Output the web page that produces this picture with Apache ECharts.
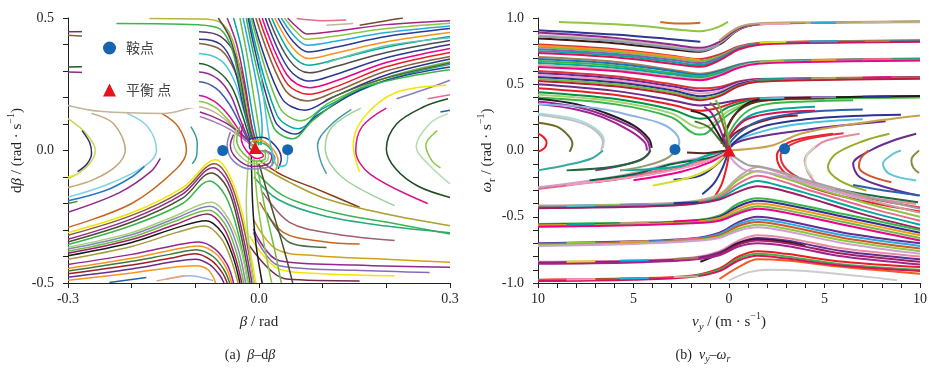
<!DOCTYPE html>
<html><head><meta charset="utf-8">
<script src="https://cdn.jsdelivr.net/npm/echarts@6/dist/echarts.min.js"></script>
<style>html,body{margin:0;padding:0;background:#fff}#c{width:933px;height:370px}</style>
</head><body><div id="c"></div>
<script>
// ---------------- LEFT PANEL (beta, dbeta) ----------------
const leftV = [
 [[0.045,0.5],[0.06,0.465],[0.075,0.44],[0.12,0.45],[0.2,0.475],[0.3,0.49]],
 [[0.04,0.5],[0.058,0.45],[0.075,0.42],[0.12,0.432],[0.2,0.46],[0.3,0.48]],
 [[0.035,0.5],[0.056,0.43],[0.076,0.397],[0.12,0.412],[0.2,0.445],[0.3,0.47]],
 [[0.03,0.5],[0.054,0.41],[0.077,0.372],[0.12,0.39],[0.2,0.43],[0.3,0.46]],
 [[0.025,0.5],[0.052,0.39],[0.078,0.347],[0.12,0.367],[0.2,0.41],[0.3,0.445]],
 [[0.02,0.5],[0.05,0.365],[0.078,0.322],[0.12,0.343],[0.2,0.39],[0.3,0.43]],
 [[0.015,0.5],[0.048,0.34],[0.079,0.293],[0.12,0.317],[0.2,0.37],[0.3,0.415]],
 [[0.01,0.5],[0.046,0.31],[0.08,0.262],[0.12,0.287],[0.2,0.35],[0.3,0.4]],
 [[0.005,0.5],[0.044,0.285],[0.08,0.237],[0.12,0.262],[0.2,0.332],[0.3,0.385]],
 [[0,0.5],[0.042,0.26],[0.078,0.212],[0.12,0.24],[0.2,0.316],[0.3,0.37]],
 [[-0.005,0.5],[0.04,0.232],[0.076,0.187],[0.12,0.222],[0.2,0.3],[0.3,0.355]],
 [[-0.01,0.5],[0.035,0.2],[0.072,0.152],[0.115,0.2],[0.2,0.285],[0.3,0.345]],
 [[-0.012,0.5],[0.032,0.165],[0.066,0.112],[0.11,0.18],[0.2,0.275],[0.3,0.335]],
 [[-0.015,0.5],[0.028,0.135],[0.062,0.082],[0.1,0.158],[0.2,0.265],[0.3,0.325]],
 [[-0.017,0.5],[0.025,0.112],[0.058,0.062],[0.09,0.13],[0.18,0.25],[0.3,0.315]],
 [[-0.02,0.5],[0.022,0.092],[0.053,0.044],[0.085,0.115],[0.16,0.235],[0.3,0.305]]
];
const leftVColors = ['#a3238e','#8dc63f','#27aae1','#2b3990','#f7941d','#00a99d','#4d4d4d','#2b3990','#ec008c','#ed1c24','#8b5e3c','#2e3192','#6abf45','#00a99d','#2b3990','#39b54a'];
const leftVExtra = [
 [[0.059,0.498],[0.1,0.49],[0.137,0.492]],
 [[0.106,0.473],[0.148,0.479]],
 [[0.158,0.473],[0.2,0.49],[0.226,0.5]],
 [[0.105,0.19],[0.18,0.26],[0.3,0.33]],
 [[0.216,0.195],[0.26,0.23],[0.3,0.265]],
 [[0.265,0.195],[0.3,0.21]],
 [[0.105,0.33],[0.2,0.395],[0.3,0.425]]
];
const leftVExtraColors = ['#e66b8e','#c2b59b','#754c24','#4d6b2f','#8781bd','#e66b8e','#66c2a5'];
const leftLambda = [
 [[-0.3,-0.31],[-0.2,-0.235],[-0.12,-0.14],[-0.068,-0.035],[-0.045,-0.1],[-0.025,-0.25],[-0.005,-0.5]],
 [[-0.3,-0.32],[-0.2,-0.245],[-0.12,-0.152],[-0.07,-0.05],[-0.047,-0.11],[-0.027,-0.26],[-0.008,-0.5]],
 [[-0.3,-0.335],[-0.2,-0.258],[-0.12,-0.165],[-0.072,-0.065],[-0.049,-0.12],[-0.03,-0.27],[-0.011,-0.5]],
 [[-0.3,-0.345],[-0.2,-0.27],[-0.12,-0.18],[-0.075,-0.085],[-0.05,-0.14],[-0.032,-0.28],[-0.014,-0.5]],
 [[-0.3,-0.355],[-0.2,-0.283],[-0.12,-0.2],[-0.078,-0.115],[-0.053,-0.17],[-0.034,-0.3],[-0.017,-0.5]],
 [[-0.3,-0.365],[-0.2,-0.31],[-0.13,-0.245],[-0.075,-0.195],[-0.05,-0.25],[-0.03,-0.36],[-0.018,-0.5]],
 [[-0.3,-0.372],[-0.2,-0.318],[-0.13,-0.255],[-0.077,-0.21],[-0.052,-0.26],[-0.033,-0.37],[-0.021,-0.5]],
 [[-0.3,-0.38],[-0.2,-0.327],[-0.13,-0.265],[-0.079,-0.225],[-0.054,-0.275],[-0.036,-0.38],[-0.024,-0.5]],
 [[-0.3,-0.388],[-0.2,-0.336],[-0.13,-0.278],[-0.081,-0.24],[-0.056,-0.29],[-0.039,-0.39],[-0.027,-0.5]],
 [[-0.3,-0.397],[-0.2,-0.347],[-0.13,-0.292],[-0.083,-0.265],[-0.058,-0.31],[-0.041,-0.4],[-0.03,-0.5]],
 [[-0.3,-0.41],[-0.2,-0.362],[-0.13,-0.31],[-0.085,-0.285],[-0.06,-0.33],[-0.044,-0.41],[-0.033,-0.5]],
 [[-0.3,-0.43],[-0.2,-0.392],[-0.14,-0.362],[-0.095,-0.345],[-0.07,-0.37],[-0.05,-0.43],[-0.04,-0.5]],
 [[-0.3,-0.445],[-0.2,-0.407],[-0.14,-0.377],[-0.095,-0.36],[-0.07,-0.385],[-0.052,-0.44],[-0.043,-0.5]],
 [[-0.3,-0.455],[-0.2,-0.418],[-0.14,-0.392],[-0.097,-0.375],[-0.072,-0.4],[-0.055,-0.45],[-0.046,-0.5]],
 [[-0.3,-0.465],[-0.2,-0.432],[-0.14,-0.407],[-0.1,-0.39],[-0.075,-0.415],[-0.058,-0.46],[-0.05,-0.5]],
 [[-0.3,-0.478],[-0.2,-0.447],[-0.14,-0.422],[-0.1,-0.41],[-0.078,-0.43],[-0.062,-0.47],[-0.055,-0.5]],
 [[-0.3,-0.49],[-0.2,-0.462],[-0.14,-0.442],[-0.1,-0.435],[-0.08,-0.45],[-0.068,-0.5]]
];
const leftLambdaColors = ['#f2e600','#8b5e3c','#92278f','#4d4d2f','#39b54a','#a5d16f','#8781bd','#6abf45','#9e1f63','#1a1a1a','#a89b3c','#92278f','#f7941d','#3d7a3a','#9e1f1f','#662d91','#f7941d'];
const leftBottomBits = [
 [[-0.146,-0.486],[-0.109,-0.473],[-0.072,-0.491]],
 [[-0.161,-0.492],[-0.117,-0.473]],
 [[-0.235,-0.498],[-0.177,-0.479]]
];
const leftBottomBitsColors = ['#9fb4e6','#f0a070','#2b5fa8'];
const leftArcsL = [
 [[-0.3,0.12],[-0.272,0.065],[-0.257,0],[-0.27,-0.06],[-0.3,-0.107]],
 [[-0.278,0.075],[-0.266,0.03],[-0.263,-0.01],[-0.27,-0.05],[-0.285,-0.08]],
 [[-0.263,0.14],[-0.228,0.1],[-0.21,0.0],[-0.225,-0.06],[-0.26,-0.11],[-0.3,-0.14]],
 [[-0.207,0.14],[-0.175,0.09],[-0.161,0.0],[-0.18,-0.06],[-0.24,-0.13],[-0.3,-0.176]],
 [[-0.153,0.14],[-0.127,0.09],[-0.114,0.0],[-0.13,-0.07],[-0.2,-0.2],[-0.3,-0.29]],
 [[-0.107,0.09],[-0.097,0.03],[-0.098,-0.02],[-0.105,-0.05]],
 [[-0.3,-0.233],[-0.22,-0.16],[-0.17,-0.08],[-0.155,-0.03]],
 [[-0.3,-0.19],[-0.24,-0.15],[-0.2,-0.1],[-0.18,-0.06]],
 [[-0.3,-0.1],[-0.285,-0.09]],
 [[-0.3,-0.2],[-0.285,-0.192]]
];
const leftArcsLColors = ['#c8d84a','#2b2f6b','#c2a878','#7fd3e0','#c8641e','#3a9a9a','#92278f','#2878c8','#e8e620','#3a8a3a'];
const leftArcsR = [
 [[0.145,0.155],[0.11,0.09],[0.092,0.02],[0.097,-0.04],[0.106,-0.088]],
 [[0.16,0.16],[0.115,0.09],[0.104,0.01],[0.13,-0.1],[0.213,-0.208]],
 [[0.294,0.246],[0.216,0.22],[0.165,0.126],[0.148,0.02],[0.158,-0.08]],
 [[0.2,0.16],[0.162,0.09],[0.152,0.0],[0.175,-0.09],[0.265,-0.2]],
 [[0.297,0.195],[0.258,0.164],[0.216,0.1],[0.2,0.006],[0.215,-0.07],[0.25,-0.135],[0.3,-0.177]],
 [[0.297,0.139],[0.268,0.101],[0.247,0.013],[0.268,-0.057],[0.3,-0.126]],
 [[0.28,0.075],[0.262,0.02],[0.272,-0.04],[0.285,-0.065]],
 [[0.285,0.145],[0.3,0.152]]
];
const leftArcsRColors = ['#4a9aa8','#9bd49b','#f2e600','#d4148c','#1f4a1f','#b5dcb0','#8dc63f','#2b5fa8'];
const leftFanLow = [
 [[0,-0.035],[0.038,-0.095],[0.09,-0.145],[0.158,-0.214]],
 [[-0.004,-0.05],[0.048,-0.12],[0.106,-0.183],[0.2,-0.24],[0.3,-0.284]],
 [[-0.004,-0.082],[0.038,-0.17],[0.116,-0.233],[0.2,-0.27],[0.3,-0.315]],
 [[-0.008,-0.1],[0.03,-0.185],[0.1,-0.245],[0.2,-0.285],[0.3,-0.31]],
 [[0.006,-0.158],[0.048,-0.271],[0.12,-0.315],[0.213,-0.34]],
 [[0.001,-0.195],[0.038,-0.309],[0.1,-0.343],[0.158,-0.353]],
 [[0.012,-0.233],[0.048,-0.347],[0.106,-0.366]],
 [[-0.009,-0.259],[0.027,-0.372],[0.09,-0.397],[0.2,-0.41],[0.3,-0.422]],
 [[-0.009,-0.296],[0.032,-0.416],[0.15,-0.432],[0.3,-0.441]],
 [[-0.009,-0.309],[0.032,-0.435],[0.15,-0.452],[0.268,-0.46]],
 [[-0.015,-0.322],[0.032,-0.448],[0.1,-0.465],[0.213,-0.473]],
 [[-0.015,-0.359],[0.043,-0.485],[0.158,-0.492]],
 [[-0.012,-0.02],[-0.01,-0.2],[-0.005,-0.35],[0.005,-0.5]],
 [[-0.008,-0.03],[-0.002,-0.2],[0.01,-0.38],[0.02,-0.5]],
 [[-0.004,-0.04],[0.008,-0.2],[0.025,-0.38],[0.035,-0.5]],
 [[0,-0.05],[0.018,-0.2],[0.04,-0.38],[0.053,-0.5]],
 [[-0.016,-0.02],[-0.02,-0.2],[-0.015,-0.38],[-0.008,-0.5]]
];
const leftFanLowColors = ['#8b3a1a','#a8a030','#39b54a','#2aa87a','#a0606a','#c8641e','#4a6a4a','#d4a017','#92278f','#8a6abf','#f2e600','#7a2a4a','#1a1a1a','#8dc63f','#6abf45','#4d4d2f','#a5d16f'];
const leftFanUp = [
 [[-0.3,0.448],[-0.2,0.45],[-0.094,0.448],[-0.06,0.43],[-0.035,0.35],[-0.02,0.2],[-0.008,0.04]],
 [[-0.3,0.435],[-0.2,0.42],[-0.094,0.404],[-0.06,0.38],[-0.038,0.3],[-0.022,0.17],[-0.01,0.04]],
 [[-0.2,0.37],[-0.094,0.366],[-0.06,0.34],[-0.04,0.27],[-0.024,0.15],[-0.012,0.04]],
 [[-0.3,0.315],[-0.2,0.32],[-0.094,0.328],[-0.065,0.3],[-0.043,0.24],[-0.027,0.14],[-0.014,0.04]],
 [[-0.3,0.296],[-0.2,0.29],[-0.094,0.296],[-0.065,0.27],[-0.045,0.21],[-0.03,0.12],[-0.016,0.04]],
 [[-0.2,0.26],[-0.094,0.259],[-0.068,0.235],[-0.048,0.18],[-0.032,0.11],[-0.018,0.04]],
 [[-0.2,0.21],[-0.094,0.208],[-0.07,0.185],[-0.05,0.14],[-0.035,0.09],[-0.02,0.04]],
 [[-0.3,0.17],[-0.25,0.148],[-0.15,0.14],[-0.094,0.164],[-0.07,0.145],[-0.05,0.11],[-0.035,0.07],[-0.02,0.035]],
 [[-0.2,0.4],[-0.094,0.42],[-0.06,0.4],[-0.04,0.32],[-0.026,0.18],[-0.012,0.05]],
 [[-0.2,0.18],[-0.094,0.185],[-0.07,0.165],[-0.052,0.125],[-0.036,0.08],[-0.02,0.04]],
 [[-0.224,0.479],[-0.12,0.476],[-0.067,0.465],[-0.045,0.4],[-0.03,0.25],[-0.015,0.08],[-0.005,0.02]],
 [[-0.172,0.498],[-0.093,0.496],[-0.062,0.485],[-0.042,0.42],[-0.027,0.27],[-0.013,0.09],[-0.003,0.02]],
 [[-0.064,0.5],[-0.045,0.42],[-0.03,0.28],[-0.018,0.12],[-0.008,0.03]],
 [[-0.05,0.5],[-0.035,0.4],[-0.022,0.25],[-0.012,0.1],[-0.004,0.03]],
 [[-0.04,0.5],[-0.027,0.38],[-0.016,0.22],[-0.006,0.08],[0,0.02]],
 [[-0.03,0.5],[-0.018,0.35],[-0.008,0.2],[0,0.08],[0.003,0.02]],
 [[-0.025,0.5],[-0.01,0.33],[0.0,0.2],[0.005,0.08],[0.003,0.02]],
 [[-0.093,0.145],[-0.07,0.125],[-0.046,0.095],[-0.025,0.055],[-0.01,0.02]],
 [[-0.093,0.128],[-0.07,0.108],[-0.046,0.08],[-0.025,0.045],[-0.01,0.015]]
];
const leftFanUpColors = ['#5a3a6a','#8b5e3c','#4cc3d9','#1f5a2a','#92278f','#3b5ba8','#d4148c','#c2b59b','#2b3990','#8dc63f','#39b54a','#b5b53c','#4d4d4d','#a3238e','#00a99d','#6abf45','#27aae1','#92278f','#a67cc0'];
const leftSpiral = [
 [[-0.04,0.06],[-0.045,0.02],[-0.035,-0.03],[-0.01,-0.06],[0.015,-0.05],[0.02,-0.02],[0.005,0.0]],
 [[-0.035,0.08],[-0.04,0.03],[-0.03,-0.02],[-0.008,-0.05],[0.012,-0.04],[0.015,-0.015],[0,0]],
 [[-0.03,0.09],[-0.035,0.04],[-0.025,-0.01],[-0.005,-0.04],[0.01,-0.03],[0.01,-0.01],[-0.002,0]],
 [[-0.025,0.1],[-0.028,0.05],[-0.02,0.0],[-0.003,-0.03],[0.007,-0.02],[0,0]],
 [[0.03,-0.07],[0.035,-0.03],[0.025,0.02],[0.005,0.05],[-0.015,0.04],[-0.015,0.01],[-0.005,0]],
 [[0.025,-0.08],[0.03,-0.04],[0.02,0.01],[0,0.04],[-0.012,0.03],[-0.01,0.008]],
 [[0.02,-0.06],[0.022,-0.02],[0.012,0.02],[-0.003,0.03],[-0.01,0.015]],
 [[-0.045,0.07],[-0.05,0.02],[-0.04,-0.04],[-0.012,-0.07],[0.018,-0.06],[0.025,-0.025],[0.008,0.002]],
 [[0.0,0.35],[0.01,0.15],[0.02,0.0],[0.03,-0.06],[0.042,-0.055],[0.045,-0.02],[0.045,0.0]]
];
const leftSpiralColors = ['#92278f','#a5d16f','#6abf45','#ec008c','#2b3990','#f7941d','#39b54a','#8781bd','#4cc3d9'];
const leftSaddles = [[-0.057,0.0],[0.045,0.003]];
const leftEquilibrium = [[-0.006,0.009]];

// ---------------- RIGHT PANEL (vy, omega_r) ----------------
const rightA = [
 [[-10,0.908],[-6,0.875],[-3,0.84],[-1.5,0.82]],
 [[-10,0.845],[-6,0.81],[-3,0.765],[-1.5,0.745],[-0.5,0.8],[0.5,0.91],[1.5,0.95],[4,0.963],[10,0.972]],
 [[-10,0.87],[-6,0.835],[-3,0.785],[-1.5,0.76],[-0.5,0.81],[0.5,0.915],[1.5,0.952],[4,0.962],[10,0.968]],
 [[-10,0.89],[-6,0.85],[-3,0.8],[-1.5,0.775],[-0.5,0.82],[0.5,0.92],[1.5,0.955],[4,0.965]],
 [[-8.9,0.97],[-5,0.945],[-2.5,0.91],[-1.5,0.9],[-0.6,0.93],[-0.05,0.97]],
 [[-3.6,0.97],[-2.6,0.958],[-1.5,0.965]],
 [[-10,0.86],[-6,0.825],[-3,0.775],[-1.5,0.752],[-0.5,0.8]],
 [[-0.5,0.83],[0.5,0.93],[1.5,0.958],[4,0.966],[10,0.975]]
];
const rightAColors = ['#2b3990','#3b1a12','#c2b59b','#92278f','#8dc63f','#d2691e','#8a9ab0','#b5a86a'];
const rightB = [
 [[-10,0.8],[-6,0.765],[-3,0.715],[-1.5,0.69],[-0.5,0.725],[0.5,0.785],[1.5,0.812],[4,0.822],[10,0.832]],
 [[-10,0.78],[-6,0.745],[-3,0.7],[-1.5,0.675],[-0.5,0.712],[0.5,0.778],[1.5,0.808],[4,0.82],[10,0.829]],
 [[-10,0.765],[-6,0.73],[-3,0.685],[-1.5,0.66],[-0.5,0.7],[0.5,0.772],[1.5,0.805],[4,0.817],[10,0.826]],
 [[-10,0.75],[-6,0.718],[-3,0.67],[-1.5,0.645],[-0.5,0.69],[0.5,0.767],[1.5,0.801],[4,0.814],[10,0.823]],
 [[-10,0.735],[-6,0.703],[-3,0.655],[-1.5,0.632],[-0.5,0.68],[0.5,0.762],[1.5,0.797],[4,0.811],[10,0.82]],
 [[-10,0.79],[-6,0.755],[-3,0.71],[-1.5,0.683]]
];
const rightBColors = ['#e0303a','#6abf45','#8e5ab5','#00a99d','#d4145a','#f7941d'];
const rightC = [
 [[-10,0.705],[-6,0.67],[-3,0.61],[-1.5,0.58],[-0.5,0.605],[0.5,0.65],[1.5,0.672],[4,0.683],[10,0.695]],
 [[-10,0.69],[-6,0.655],[-3,0.6],[-1.5,0.57],[-0.5,0.6],[0.5,0.645],[1.5,0.668],[4,0.68],[10,0.69]],
 [[-10,0.675],[-6,0.64],[-3,0.585],[-1.5,0.56],[-0.5,0.59],[0.5,0.64],[1.5,0.665],[4,0.678],[10,0.688]],
 [[-10,0.66],[-6,0.625],[-3,0.575],[-1.5,0.55],[-0.5,0.58],[0.5,0.635],[1.5,0.662],[4,0.675],[10,0.685]],
 [[-10,0.645],[-6,0.61],[-3,0.56],[-1.5,0.54],[-0.5,0.57],[0.5,0.63],[1.5,0.66],[4,0.672],[10,0.682]],
 [[-10,0.63],[-6,0.6],[-3,0.55],[-1.5,0.53],[-0.5,0.565],[0.5,0.625],[1.5,0.655],[4,0.668],[10,0.68]]
];
const rightCColors = ['#a67c52','#1b75bc','#39b54a','#00a99d','#c2b59b','#ec008c'];
const rightD = [
 [[-10,0.6],[-6,0.56],[-3,0.5],[-1.5,0.47],[-0.5,0.48],[0.5,0.52],[1.5,0.54],[4,0.545],[10,0.555]],
 [[-10,0.585],[-6,0.545],[-3,0.485],[-1.5,0.45],[-0.5,0.465],[0.5,0.515],[1.5,0.535],[4,0.542],[10,0.552]],
 [[-10,0.57],[-6,0.53],[-3,0.47],[-1.5,0.43],[-0.5,0.45],[0.5,0.505],[1.5,0.53],[4,0.54],[10,0.55]],
 [[-10,0.555],[-6,0.515],[-3,0.455],[-1.5,0.41],[-0.5,0.435],[0.5,0.5],[1.5,0.527],[4,0.537],[10,0.547]],
 [[-10,0.54],[-6,0.5],[-3,0.44],[-1.5,0.395],[-0.5,0.42],[0.5,0.49],[1.5,0.522],[4,0.534],[10,0.545]],
 [[-10,0.525],[-6,0.485],[-3,0.425],[-1.5,0.38],[-0.5,0.41],[0.5,0.485],[1.5,0.518],[4,0.53],[10,0.542]]
];
const rightDColors = ['#e0303a','#662d91','#f49ac1','#2e3192','#6abf45','#be1e2d'];
const rightE = [
 [[-10,0.5],[-6,0.45],[-3,0.38],[-1.5,0.34],[-0.5,0.355],[0.5,0.382],[1.5,0.395],[4,0.4],[10,0.41]],
 [[-10,0.47],[-6,0.42],[-3,0.345],[-1.5,0.3],[-0.5,0.325],[0.5,0.372],[1.5,0.39],[4,0.398],[10,0.408]],
 [[-10,0.44],[-6,0.39],[-3,0.31],[-1.5,0.24],[-0.8,0.26],[0,0.33],[1.5,0.385],[4,0.395],[10,0.405]],
 [[-10,0.42],[-6,0.37],[-3,0.28],[-1.5,0.17],[-0.9,0.2],[0,0.3],[1.5,0.38],[4,0.392],[10,0.4]],
 [[-10,0.4],[-6,0.35],[-3,0.25],[-1.6,0.12],[-1.2,0.13],[-0.5,0.22],[0.5,0.32],[1.5,0.37],[4,0.39],[10,0.402]],
 [[-0.3,0.1],[0.2,0.25],[1,0.36],[2,0.39],[5,0.4],[10,0.412]]
];
const rightEColors = ['#662d91','#ed1c24','#009444','#a5d16f','#39b54a','#231f20'];
const rightFan = [
 [[-0.3,0.03],[0.5,0.15],[2.2,0.24],[3.6,0.265]],
 [[-0.1,0.02],[0.6,0.09],[2.3,0.165],[3.7,0.2],[5.5,0.225],[7,0.235]],
 [[0,0.015],[0.4,0.06],[1.4,0.1],[3.7,0.15],[6,0.19],[8.2,0.22]],
 [[0,0.0],[1.1,0.013],[2.3,0.04],[3.7,0.125],[5.6,0.18],[8,0.23],[10,0.265]],
 [[-0.3,0.04],[0.3,0.2],[1,0.3],[2,0.35],[4,0.37],[6.5,0.38]],
 [[-0.2,0.035],[0.4,0.18],[1.2,0.27],[2.5,0.31],[4.5,0.33]],
 [[-0.1,0.03],[0.5,0.13],[1.5,0.22],[3,0.27],[5,0.3],[7,0.31]],
 [[-0.4,0.05],[0.2,0.25],[0.8,0.33],[1.5,0.37],[3,0.39],[5,0.395]],
 [[-0.2,0.04],[0.3,0.16],[1,0.24],[2.5,0.285],[4.5,0.3]],
 [[0,0.02],[0.7,0.11],[2,0.19],[4,0.235],[6.5,0.26],[9,0.27]]
];
const rightFanColors = ['#8b1a1a','#4cc3d9','#662d91','#c8a050','#39b54a','#00a99d','#2b5fa8','#5a2a1a','#d4145a','#2e3192'];
const rightInUpper = [
 [[-2,0.3],[-1.2,0.26],[-0.7,0.16],[-0.3,0.06],[-0.1,0.01]],
 [[-1.8,0.22],[-1.1,0.18],[-0.6,0.1],[-0.25,0.04],[-0.05,0.01]],
 [[-1.3,0.33],[-0.9,0.28],[-0.5,0.17],[-0.2,0.06],[0,0.01]],
 [[-1.0,0.36],[-0.6,0.3],[-0.3,0.19],[-0.1,0.08],[0,0.02]],
 [[-0.7,0.38],[-0.4,0.3],[-0.2,0.2],[0,0.08],[0.05,0.02]]
];
const rightInUpperColors = ['#231f20','#4d6b2f','#92278f','#8b5e3c','#6abf45'];
const rightInLower = [
 [[-10,-0.277],[-5.7,-0.19],[-3.1,-0.1],[-1.4,-0.05],[-0.15,-0.01]],
 [[-10,-0.29],[-6,-0.215],[-3,-0.13],[-1.3,-0.07],[-0.2,-0.015]],
 [[-7,-0.24],[-4,-0.175],[-2,-0.115],[-0.8,-0.06],[-0.1,-0.01]],
 [[-2.9,-0.22],[-1.5,-0.19],[-0.6,-0.1],[-0.1,-0.02]],
 [[-4,-0.265],[-2,-0.2],[-0.8,-0.12],[-0.2,-0.03]],
 [[-5,-0.225],[-2.5,-0.16],[-1,-0.09],[-0.2,-0.02]],
 [[-7.3,-0.227],[-5,-0.18],[-2.9,-0.1],[-0.84,-0.05],[-0.1,-0.005]],
 [[-5.7,-0.15],[-4,-0.14],[-2.4,-0.113],[-1.2,-0.04],[-0.15,0.0]],
 [[-2.2,-0.015],[-1.3,-0.02],[-0.6,-0.01],[-0.1,0.0]],
 [[-8.5,-0.26],[-5,-0.2],[-2.5,-0.135],[-1,-0.07],[-0.1,-0.01]],
 [[-1.4,-0.33],[-0.8,-0.25],[-0.4,-0.15],[-0.1,-0.04]],
 [[-0.8,-0.36],[-0.4,-0.26],[-0.15,-0.14],[0,-0.03]]
];
const rightInLowerColors = ['#cfa0d0','#e66b8e','#e0303a','#2e3192','#d7df23','#ec008c','#006838','#00a99d','#5a2a1a','#f49ac1','#2b3990','#ed1c24'];
const rightArcsL = [
 [[-10,0.13],[-9.7,0.1],[-9.55,0.06],[-9.65,0.02],[-10,-0.01]],
 [[-10,0.21],[-9,0.18],[-8.4,0.11],[-8.2,0.05],[-8.35,-0.01]],
 [[-10,0.28],[-8,0.235],[-7,0.165],[-6.55,0.08],[-6.6,0.02]],
 [[-10,0.27],[-8,0.22],[-7,0.15],[-6.6,0.06],[-6.7,0.0]],
 [[-6.6,0.0],[-7.2,-0.06],[-8.5,-0.11],[-10,-0.15]],
 [[-10,0.39],[-8,0.35],[-6.6,0.29],[-5,0.19],[-4.2,0.09],[-4.05,0.02]],
 [[-10,0.37],[-8,0.33],[-6.6,0.27],[-5,0.17],[-4.3,0.08],[-4.15,0.0],[-4.5,-0.06],[-5.5,-0.11],[-7,-0.15]],
 [[-10,0.35],[-8,0.31],[-6.6,0.25],[-5.2,0.15],[-4.4,0.06],[-4.3,0.0]],
 [[-4.1,0.0],[-4.6,-0.07],[-6,-0.12],[-8.5,-0.15]],
 [[-10,0.35],[-7,0.32],[-5,0.26],[-3.5,0.2],[-2.8,0.13],[-2.6,0.06],[-2.75,0.01]],
 [[-5.7,-0.15],[-4.5,-0.12],[-3.4,-0.07],[-2.9,-0.02],[-2.8,0.01]]
];
const rightArcsLColors = ['#ed1c24','#6b6b2f','#a8dde0','#c0c0c0','#3aa8a0','#231f20','#92278f','#a3238e','#1f6a3a','#8fb4e6','#9a9a70'];
const rightArcsR = [
 [[5.45,0.126],[3.8,0.09],[3.0,0.05],[2.5,-0.04],[2.8,-0.15],[3.8,-0.25],[5.5,-0.33],[8,-0.41],[10,-0.46]],
 [[6,0.13],[4.2,0.09],[3.2,0.04],[2.7,-0.04],[3,-0.14],[4,-0.23],[5.8,-0.31],[8,-0.38],[10,-0.43]],
 [[6.84,0.126],[5.5,0.09],[4.75,0.05],[3.96,-0.076],[4.57,-0.252],[5.6,-0.31],[7.19,-0.353],[9.8,-0.404]],
 [[4.5,0.03],[4.1,-0.03],[4.0,-0.1],[4.4,-0.2]],
 [[8.4,0.126],[7,0.07],[5.6,-0.025],[5.18,-0.126],[5.8,-0.227],[7.19,-0.303]],
 [[9.8,0.126],[8.5,0.07],[7.4,0.0],[6.5,-0.1],[6.84,-0.2],[8.2,-0.277],[9.9,-0.34]],
 [[7.3,0.0],[6.9,-0.06],[6.8,-0.12],[7.2,-0.18],[8.5,-0.24]],
 [[9,0.0],[8.6,-0.025],[8.06,-0.1],[8.4,-0.177],[9.8,-0.227]],
 [[9.95,0.0],[9.6,-0.05],[9.55,-0.08],[9.65,-0.13],[9.95,-0.17]],
 [[5.6,-0.29],[7.5,-0.34],[9.9,-0.39]],
 [[6.5,-0.26],[8.5,-0.31],[10,-0.34]]
];
const rightArcsRColors = ['#ed1c24','#e0303a','#e88aa0','#c8e0c0','#9aab2a','#662d91','#d2552a','#5cc8d0','#8a8a40','#1f6a3a','#2b5fa8'];
const rightLowP = [
 [[-10,-0.415],[-5,-0.405],[-2,-0.385],[-0.5,-0.33],[0.5,-0.2],[1.5,-0.125],[2.5,-0.16],[4,-0.23],[7,-0.36],[10,-0.47]],
 [[-10,-0.42],[-5,-0.41],[-2,-0.39],[-0.5,-0.34],[0.5,-0.22],[1.5,-0.155],[2.5,-0.19],[4,-0.26],[7,-0.39],[10,-0.5]],
 [[-10,-0.425],[-5,-0.415],[-2,-0.395],[-0.5,-0.35],[0.5,-0.25],[1.5,-0.19],[2.5,-0.22],[4,-0.29],[7,-0.42],[10,-0.53]],
 [[-10,-0.43],[-5,-0.42],[-2,-0.4],[-0.5,-0.36],[0.5,-0.28],[1.5,-0.23],[2.5,-0.26],[4,-0.32],[7,-0.45],[10,-0.56]],
 [[-10,-0.435],[-5,-0.425],[-2,-0.405],[-0.5,-0.37],[0.5,-0.31],[1.5,-0.27],[2.5,-0.29],[4,-0.35],[7,-0.48],[10,-0.59]],
 [[-0.1,-0.01],[0.4,-0.06],[1,-0.11],[1.6,-0.12],[2.5,-0.15],[4,-0.22],[7,-0.34],[10,-0.44]],
 [[-0.05,-0.015],[0.3,-0.09],[0.9,-0.15],[1.6,-0.16],[2.5,-0.18],[4,-0.245],[7,-0.37]]
];
const rightLowPColors = ['#c8a0a8','#8dc63f','#e66b8e','#00a99d','#9e1f63','#a0a0a0','#cfa0d0'];
const rightLowQ = [
 [[-10,-0.555],[-5,-0.545],[-2,-0.53],[-0.5,-0.49],[0.5,-0.4],[1.5,-0.36],[3,-0.39],[6,-0.48],[10,-0.6]],
 [[-10,-0.56],[-5,-0.55],[-2,-0.535],[-0.5,-0.5],[0.5,-0.42],[1.5,-0.38],[3,-0.41],[6,-0.5],[10,-0.62]],
 [[-10,-0.565],[-5,-0.555],[-2,-0.54],[-0.5,-0.51],[0.5,-0.44],[1.5,-0.4],[3,-0.43],[6,-0.52],[10,-0.64]],
 [[-10,-0.57],[-5,-0.56],[-2,-0.545],[-0.5,-0.52],[0.5,-0.46],[1.5,-0.42],[3,-0.45],[6,-0.54],[10,-0.66]],
 [[-10,-0.575],[-5,-0.565],[-2,-0.55],[-0.5,-0.53],[0.5,-0.475],[1.5,-0.44],[3,-0.47],[6,-0.56],[10,-0.68]]
];
const rightLowQColors = ['#39b54a','#2e3192','#f7941d','#6abf45','#ec008c'];
const rightLowR = [
 [[-10,-0.7],[-5,-0.685],[-2,-0.665],[-0.5,-0.62],[0.5,-0.54],[1.5,-0.5],[3,-0.53],[6,-0.62],[10,-0.7]],
 [[-10,-0.705],[-5,-0.69],[-2,-0.67],[-0.5,-0.63],[0.5,-0.555],[1.5,-0.52],[3,-0.55],[6,-0.64],[10,-0.72]],
 [[-10,-0.71],[-5,-0.695],[-2,-0.675],[-0.5,-0.64],[0.5,-0.57],[1.5,-0.54],[3,-0.57],[6,-0.66],[10,-0.74]],
 [[-10,-0.715],[-5,-0.7],[-2,-0.68],[-0.5,-0.65],[0.5,-0.59],[1.5,-0.56],[3,-0.59],[6,-0.68],[10,-0.76]],
 [[-10,-0.72],[-5,-0.705],[-2,-0.685],[-0.5,-0.66],[0.5,-0.605],[1.5,-0.58],[3,-0.61],[6,-0.7],[10,-0.78]]
];
const rightLowRColors = ['#662d91','#27aae1','#d2552a','#8dc63f','#cfa0d0'];
const rightLowS = [
 [[-10,-0.84],[-5,-0.83],[-2,-0.81],[-0.5,-0.76],[0.5,-0.68],[1.5,-0.64],[3,-0.66],[6,-0.74],[10,-0.8]],
 [[-10,-0.845],[-5,-0.835],[-2,-0.815],[-0.5,-0.77],[0.5,-0.695],[1.5,-0.66],[3,-0.68],[6,-0.76],[10,-0.82]],
 [[-1.5,-0.84],[-0.5,-0.78],[0.5,-0.7],[1.5,-0.67],[3,-0.69],[4,-0.72]],
 [[-10,-0.85],[-5,-0.84],[-2,-0.82],[-0.5,-0.78],[0.5,-0.71],[1.5,-0.68],[3,-0.7],[6,-0.78],[10,-0.84]],
 [[-10,-0.855],[-5,-0.845],[-2,-0.825],[-0.5,-0.79],[0.5,-0.725],[1.5,-0.7],[3,-0.72],[6,-0.8],[10,-0.86]]
];
const rightLowSColors = ['#e88aa0','#662d91','#231f20','#9e1f63','#a3238e'];
const rightLowT = [
 [[-10,-0.975],[-5,-0.965],[-2,-0.945],[-0.5,-0.89],[0.5,-0.8],[1.5,-0.76],[3,-0.78],[6,-0.84],[10,-0.88]],
 [[-10,-0.98],[-5,-0.97],[-2,-0.95],[-0.5,-0.9],[0.5,-0.815],[1.5,-0.78],[3,-0.8],[6,-0.86],[10,-0.9]],
 [[-0.5,-0.97],[0.5,-0.88],[1.5,-0.82],[3,-0.83],[6,-0.88],[10,-0.93]],
 [[-10,-0.985],[-5,-0.975],[-2,-0.955],[-0.5,-0.91],[0.5,-0.83],[1.5,-0.795],[3,-0.815],[6,-0.87],[10,-0.91]],
 [[0,-0.98],[1,-0.92],[2,-0.9],[4,-0.91],[7,-0.95],[8.8,-0.98]]
];
const rightLowTColors = ['#ed1c24','#39b54a','#f15a24','#d4145a','#cccccc'];
const rightDashes = [
 [[1.6,0.952],[3.2,0.958]],[[4.3,0.962],[5.6,0.963]],[[7,0.966],[8.5,0.967]],
 [[1.6,0.815],[3,0.82]],[[4.2,0.823],[5.7,0.825]],[[7.1,0.826],[8.4,0.827]],
 [[1.6,0.672],[2.9,0.678]],[[4.3,0.682],[5.6,0.685]],[[7,0.688],[8.5,0.69]],
 [[1.6,0.535],[2.9,0.54]],[[4.3,0.545],[5.6,0.548]],[[7,0.55],[8.5,0.552]],
 [[1.6,0.392],[2.9,0.398]],[[4.3,0.402],[5.6,0.404]],[[7,0.406],[8.5,0.408]],
 [[-8.5,-0.973],[-7,-0.97]],[[-5.7,-0.966],[-4.2,-0.962]],[[-2.9,-0.955],[-1.6,-0.95]],
 [[-8.5,-0.84],[-7,-0.835]],[[-5.7,-0.832],[-4.2,-0.828]],[[-2.9,-0.818],[-1.6,-0.81]],
 [[-8.5,-0.698],[-7,-0.694]],[[-5.7,-0.69],[-4.2,-0.685]],[[-2.9,-0.675],[-1.6,-0.665]],
 [[-8.5,-0.556],[-7,-0.552]],[[-5.7,-0.548],[-4.2,-0.543]],[[-2.9,-0.535],[-1.6,-0.525]],
 [[-8.5,-0.418],[-7,-0.414]],[[-5.7,-0.41],[-4.2,-0.405]],[[-2.9,-0.398],[-1.6,-0.39]]
];
const rightDashColors = ['#f49ac1','#27aae1','#c2b59b','#d7df23','#00aeef','#a67c52','#8dc63f','#f7941d','#e66b8e','#00a99d','#c49a6c','#ec008c','#4cc3d9','#8781bd','#2e3192'];
const rightSaddles = [[-2.83,0.008],[2.91,0.013]];
const rightEquilibrium = [[0,0.0]];

// tick label texts
const leftXLabels = {'-0.3':'-0.3','0':'0.0','0.3':'0.3'};
const leftYLabels = {'-0.5':'-0.5','0':'0.0','0.5':'0.5'};
const rightXLabels = {'-10':'10','-5':'5','0':'0','5':'5','10':'10'};
const rightYLabels = {'-1':'-1.0','-0.5':'-0.5','0':'0.0','0.5':'0.5','1':'1.0'};

// ---------------- build ----------------
const series = [];
function addCurves(list, colors, idx, width) {
  list.forEach((pts, i) => {
    series.push({type:'line', xAxisIndex:idx, yAxisIndex:idx, data:pts, showSymbol:false, symbol:'none',
      smooth:0.35, silent:true, animation:false, z:2,
      lineStyle:{width:width, color:colors[i % colors.length]}});
  });
}
const LW = 1.5, RW = 2.0;
addCurves(leftV, leftVColors, 0, LW);
addCurves(leftVExtra, leftVExtraColors, 0, LW);
addCurves(leftLambda, leftLambdaColors, 0, LW);
addCurves(leftBottomBits, leftBottomBitsColors, 0, LW);
addCurves(leftArcsL, leftArcsLColors, 0, LW);
addCurves(leftArcsR, leftArcsRColors, 0, LW);
addCurves(leftFanLow, leftFanLowColors, 0, LW);
addCurves(leftFanUp, leftFanUpColors, 0, LW);
addCurves(leftSpiral, leftSpiralColors, 0, LW);
addCurves(rightA, rightAColors, 1, RW);
addCurves(rightB, rightBColors, 1, RW);
addCurves(rightC, rightCColors, 1, RW);
addCurves(rightD, rightDColors, 1, RW);
addCurves(rightE, rightEColors, 1, RW);
addCurves(rightFan, rightFanColors, 1, RW);
addCurves(rightInUpper, rightInUpperColors, 1, RW);
addCurves(rightInLower, rightInLowerColors, 1, RW);
addCurves(rightArcsL, rightArcsLColors, 1, RW);
addCurves(rightArcsR, rightArcsRColors, 1, RW);
addCurves(rightLowP, rightLowPColors, 1, RW);
addCurves(rightLowQ, rightLowQColors, 1, RW);
addCurves(rightLowR, rightLowRColors, 1, RW);
addCurves(rightLowS, rightLowSColors, 1, RW);
addCurves(rightLowT, rightLowTColors, 1, RW);
addCurves(rightDashes, rightDashColors, 1, RW);

const BLUE = '#1565b0', RED = '#e3141b';
const mk = (name, idx, data, symbol, size, color) => ({type:'scatter', name, xAxisIndex:idx, yAxisIndex:idx, data,
  symbol, symbolSize:size, itemStyle:{color, opacity:1}, z:10, silent:true, animation:false});
series.push(mk('鞍点', 0, leftSaddles, 'circle', 11, BLUE));
series.push(mk('平衡 点', 0, leftEquilibrium, 'triangle', [13,12], RED));
series.push(mk('saddleR', 1, rightSaddles, 'circle', 11, BLUE));
series.push(mk('eqR', 1, rightEquilibrium, 'triangle', [13,12], RED));

const FONT = 'Liberation Serif';
const INK = '#231f20';
const rich = {
  i:{fontStyle:'italic', fontSize:15, fontFamily:FONT, color:INK},
  sup:{fontSize:10, verticalAlign:'top', fontFamily:FONT, color:INK},
  sub:{fontSize:11, verticalAlign:'bottom', fontStyle:'italic', fontFamily:FONT, color:INK},
  subr:{fontSize:11, verticalAlign:'bottom', fontFamily:FONT, color:INK}
};
function keyOf(v){ const r = Math.round(v*1000)/1000; return String(r === 0 ? 0 : r); }
function axisCommon(labels, margin) {
  return {
    axisLine:{show:true, onZero:false, lineStyle:{color:INK, width:1}},
    axisTick:{show:true, inside:false, length:5, lineStyle:{color:INK, width:1}},
    splitLine:{show:false},
    axisLabel:{fontFamily:FONT, fontSize:14, color:INK, margin:margin, showMinLabel:true, showMaxLabel:true,
      formatter:(v)=>{ const k = keyOf(v); return labels[k] !== undefined ? labels[k] : ''; }}
  };
}
function nameStyle(){ return {fontFamily:FONT, fontSize:15, color:INK, lineHeight:22, rich:rich}; }

const option = {
  animation:false,
  backgroundColor:'#fff',
  grid:[
    {left:68, right:483, top:18, bottom:87},
    {left:538, right:13, top:18, bottom:87}
  ],
  xAxis:[
    Object.assign({type:'value', gridIndex:0, min:-0.3, max:0.3, interval:0.1,
      name:'{i|β} / rad', nameLocation:'middle', nameGap:27, nameTextStyle:nameStyle()}, axisCommon(leftXLabels, 9)),
    Object.assign({type:'value', gridIndex:1, min:-10, max:10, interval:1,
      name:'{i|v}{sub|y} / (m · s{sup|−1})', nameLocation:'middle', nameGap:27, nameTextStyle:nameStyle()}, axisCommon(rightXLabels, 9))
  ],
  yAxis:[
    Object.assign({type:'value', gridIndex:0, min:-0.5, max:0.5, interval:0.1,
      name:'d{i|β} / (rad · s{sup|−1})', nameLocation:'middle', nameGap:40, nameTextStyle:nameStyle()}, axisCommon(leftYLabels, 14)),
    Object.assign({type:'value', gridIndex:1, min:-1, max:1, interval:0.1,
      name:'{i|ω}{subr|r} / (rad · s{sup|−1})', nameLocation:'middle', nameGap:40, nameTextStyle:nameStyle()}, axisCommon(rightYLabels, 14))
  ],
  legend:{
    data:[{name:'鞍点', icon:'circle'},{name:'平衡 点', icon:'triangle'}],
    orient:'vertical', left:98, top:36, itemWidth:13, itemHeight:13, itemGap:28, selectedMode:false, z:20,
    textStyle:{fontFamily:'Noto Sans CJK SC', fontSize:14, color:'#444', padding:[0,0,0,5]}
  },
  graphic:[
    {type:'rect', z:10, silent:true, shape:{x:82, y:26, width:117, height:82}, style:{fill:'#fff'}},
    {type:'text', z:10, silent:true, x:250, y:355, style:{text:'(a)  {i|β}–d{i|β}', rich:{i:{fontStyle:'italic', fontFamily:FONT, fontSize:14, fill:INK}},
      font:'14px "Liberation Serif"', fill:INK, align:'center', verticalAlign:'middle', textAlign:'center', textVerticalAlign:'middle'}},
    {type:'text', z:10, silent:true, x:703, y:355, style:{text:'(b)  {i|v}{s|y}–{i|ω}{s|r}', rich:{i:{fontStyle:'italic', fontFamily:FONT, fontSize:14, fill:INK}, s:{fontStyle:'italic', fontFamily:FONT, fontSize:10, fill:INK, verticalAlign:'bottom'}},
      font:'14px "Liberation Serif"', fill:INK, lineHeight:19, align:'center', verticalAlign:'middle', textAlign:'center', textVerticalAlign:'middle'}}
  ],
  series:series
};
const chart = echarts.init(document.getElementById('c'), null, {renderer:'canvas'});
chart.setOption(option);
</script>
</body></html>
